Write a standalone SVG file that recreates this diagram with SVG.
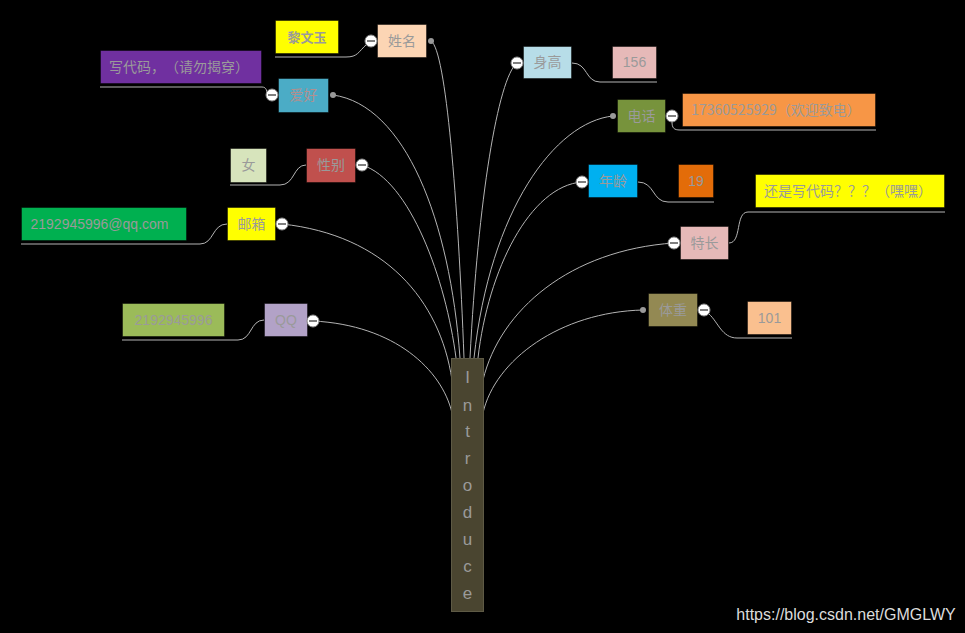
<svg xmlns="http://www.w3.org/2000/svg" width="965" height="633" viewBox="0 0 965 633">
<style>
.bg{fill:#000}
.ln{fill:none;stroke:#b4b4b4;stroke-width:1}
.nd{stroke:#000;stroke-opacity:.45;stroke-width:1}
.t{font-family:"Noto Sans CJK SC","Liberation Sans",sans-serif;font-size:14px;fill:#9a9a9a;text-anchor:middle;text-spacing-trim:space-all}
.n{font-family:"Liberation Sans","Noto Sans CJK SC",sans-serif;font-size:14px;fill:#9a9a9a;text-anchor:middle}
.c{fill:#fff;stroke:#888;stroke-width:1}
.m{stroke:#555;stroke-width:1.5}
.d{fill:#999}
.ct{font-family:"Liberation Sans",sans-serif;font-size:17px;fill:#9a9a9a;text-anchor:middle}
</style>
<rect class="bg" x="0" y="0" width="965" height="633"/>
<g id="connectors">
<path class="ln" d="M431,41 C446,50 458,200 464,358"/>
<path class="ln" d="M333,95 C405,105 450,220 460,358"/>
<path class="ln" d="M362,165 C410,180 446,280 456,358"/>
<path class="ln" d="M282,224 C385,235 440,300 452,380"/>
<path class="ln" d="M313,321 C395,325 442,370 452,413"/>
<path class="ln" d="M517,63 C498,78 478,200 470,358"/>
<path class="ln" d="M613,116 C555,122 490,210 474,358"/>
<path class="ln" d="M582,182 C530,186 488,270 478,358"/>
<path class="ln" d="M674,243 C570,250 500,310 483,380"/>
<path class="ln" d="M643,310 C560,312 495,360 483,413"/>
<path class="ln" d="M367,44 C358,52 358,57 346,57 H275"/>
<path class="ln" d="M100,87 H262 C267,87 267,92 267,95"/>
<path class="ln" d="M230,185 H280 C295,185 293,165 306,165"/>
<path class="ln" d="M21,244 H200 C214,244 212,224 227,224"/>
<path class="ln" d="M122,340 H238 C252,340 250,320 264,320"/>
<path class="ln" d="M572,63 C588,63 585,82 600,82 H657"/>
<path class="ln" d="M672,122 C672,128 674,130 680,130 H876"/>
<path class="ln" d="M638,182 C655,182 652,202 668,202 H714"/>
<path class="ln" d="M729,243 C742,243 735,212 748,212 H945"/>
<path class="ln" d="M709,314 C718,322 722,338 737,338 H792"/>
</g>
<g id="introduce">
<rect x="451.5" y="358.5" width="32" height="253" fill="#4a4530" stroke="#5e5a45"/>
<text class="ct" x="467.5" y="383">I</text>
<text class="ct" x="467.5" y="411">n</text>
<text class="ct" x="467.5" y="437">t</text>
<text class="ct" x="467.5" y="464">r</text>
<text class="ct" x="467.5" y="491">o</text>
<text class="ct" x="467.5" y="518">d</text>
<text class="ct" x="467.5" y="545">u</text>
<text class="ct" x="467.5" y="572">c</text>
<text class="ct" x="467.5" y="599">e</text>
</g>
<g id="name">
<rect class="nd" x="377.5" y="24.5" width="49" height="33" fill="#fcd5b4"/>
<text class="t" x="402" y="46">姓名</text>
<circle class="d" cx="431" cy="41" r="3"/>
<circle class="c" cx="371" cy="41" r="6"/><line class="m" x1="367" y1="41" x2="375" y2="41"/>
</g>
<g id="name-value">
<rect class="nd" x="275.5" y="20.5" width="63" height="33" fill="#ffff00"/>
<text class="t" x="307" y="42" style="font-family:'Liberation Serif','Noto Sans CJK SC',serif;font-weight:bold;font-size:13px">黎文玉</text>
</g>
<g id="hobby">
<rect class="nd" x="278.5" y="78.5" width="50" height="34" fill="#4bacc6"/>
<text class="t" x="303.5" y="100" style="fill:#b09090">爱好</text>
<circle class="d" cx="333" cy="95" r="3"/>
<circle class="c" cx="272" cy="95" r="6"/><line class="m" x1="268" y1="95" x2="276" y2="95"/>
</g>
<g id="hobby-value">
<rect class="nd" x="100.5" y="50.5" width="161" height="33" fill="#7030a0"/>
<text class="t" x="179" y="72">写代码，（请勿揭穿）</text>
</g>
<g id="gender">
<rect class="nd" x="306.5" y="148.5" width="49" height="34" fill="#c0504d"/>
<text class="t" x="331" y="170">性别</text>
<circle class="c" cx="362" cy="165" r="6"/><line class="m" x1="358" y1="165" x2="366" y2="165"/>
</g>
<g id="gender-value">
<rect class="nd" x="230.5" y="148.5" width="36" height="34" fill="#d7e4bc"/>
<text class="t" x="248.5" y="170">女</text>
</g>
<g id="email">
<rect class="nd" x="227.5" y="207.5" width="48" height="33" fill="#ffff00"/>
<text class="t" x="251.5" y="229">邮箱</text>
<circle class="c" cx="282" cy="224" r="6"/><line class="m" x1="278" y1="224" x2="286" y2="224"/>
</g>
<g id="email-value">
<rect class="nd" x="21.5" y="207.5" width="165" height="33" fill="#00b050"/>
<text class="n" x="99.5" y="229">2192945996@qq.com</text>
</g>
<g id="qq">
<rect class="nd" x="264.5" y="303.5" width="43" height="33" fill="#b2a2c7"/>
<text class="n" x="286" y="325">QQ</text>
<circle class="c" cx="313" cy="321" r="6"/><line class="m" x1="309" y1="321" x2="317" y2="321"/>
</g>
<g id="qq-value">
<rect class="nd" x="122.5" y="303.5" width="102" height="33" fill="#9bbb59"/>
<text class="n" x="173.5" y="325">2192945996</text>
</g>
<g id="height">
<rect class="nd" x="523.5" y="46.5" width="48" height="32" fill="#b7dde8"/>
<text class="t" x="547.5" y="67">身高</text>
<circle class="c" cx="517" cy="63" r="6"/><line class="m" x1="513" y1="63" x2="521" y2="63"/>
</g>
<g id="height-value">
<rect class="nd" x="612.5" y="46.5" width="44" height="32" fill="#e6b9b8"/>
<text class="n" x="634.5" y="67">156</text>
</g>
<g id="phone">
<rect class="nd" x="617.5" y="99.5" width="48" height="33" fill="#77933c"/>
<text class="t" x="641.5" y="121">电话</text>
<circle class="d" cx="613" cy="116" r="3"/>
<circle class="c" cx="672" cy="116" r="6"/><line class="m" x1="668" y1="116" x2="676" y2="116"/>
</g>
<g id="phone-value">
<rect class="nd" x="682.5" y="93.5" width="193" height="33" fill="#f79646"/>
<text class="t" x="776" y="115">17360525929（欢迎致电）</text>
</g>
<g id="age">
<rect class="nd" x="588.5" y="164.5" width="49" height="33" fill="#00b0f0"/>
<text class="t" x="613" y="186">年龄</text>
<circle class="c" cx="582" cy="182" r="6"/><line class="m" x1="578" y1="182" x2="586" y2="182"/>
</g>
<g id="age-value">
<rect class="nd" x="678.5" y="164.5" width="35" height="33" fill="#e36c09"/>
<text class="n" x="696" y="186">19</text>
</g>
<g id="skill">
<rect class="nd" x="680.5" y="226.5" width="48" height="33" fill="#e6b9b8"/>
<text class="t" x="704.5" y="248">特长</text>
<circle class="c" cx="674" cy="243" r="6"/><line class="m" x1="670" y1="243" x2="678" y2="243"/>
</g>
<g id="skill-value">
<rect class="nd" x="755.5" y="174.5" width="189" height="33" fill="#ffff00"/>
<text class="t" x="848" y="196">还是写代码？？？（嘿嘿）</text>
</g>
<g id="weight">
<rect class="nd" x="648.5" y="293.5" width="49" height="33" fill="#938953"/>
<text class="t" x="673" y="315">体重</text>
<circle class="d" cx="643" cy="310" r="3"/>
<circle class="c" cx="704" cy="310" r="6"/><line class="m" x1="700" y1="310" x2="708" y2="310"/>
</g>
<g id="weight-value">
<rect class="nd" x="747.5" y="301.5" width="44" height="33" fill="#fac08f"/>
<text class="n" x="769.5" y="323">101</text>
</g>
<text x="846" y="620" style="font-family:'Liberation Sans',sans-serif;font-size:16px;fill:#dcdcdc;text-anchor:middle">https://blog.csdn.net/GMGLWY</text>
</svg>
